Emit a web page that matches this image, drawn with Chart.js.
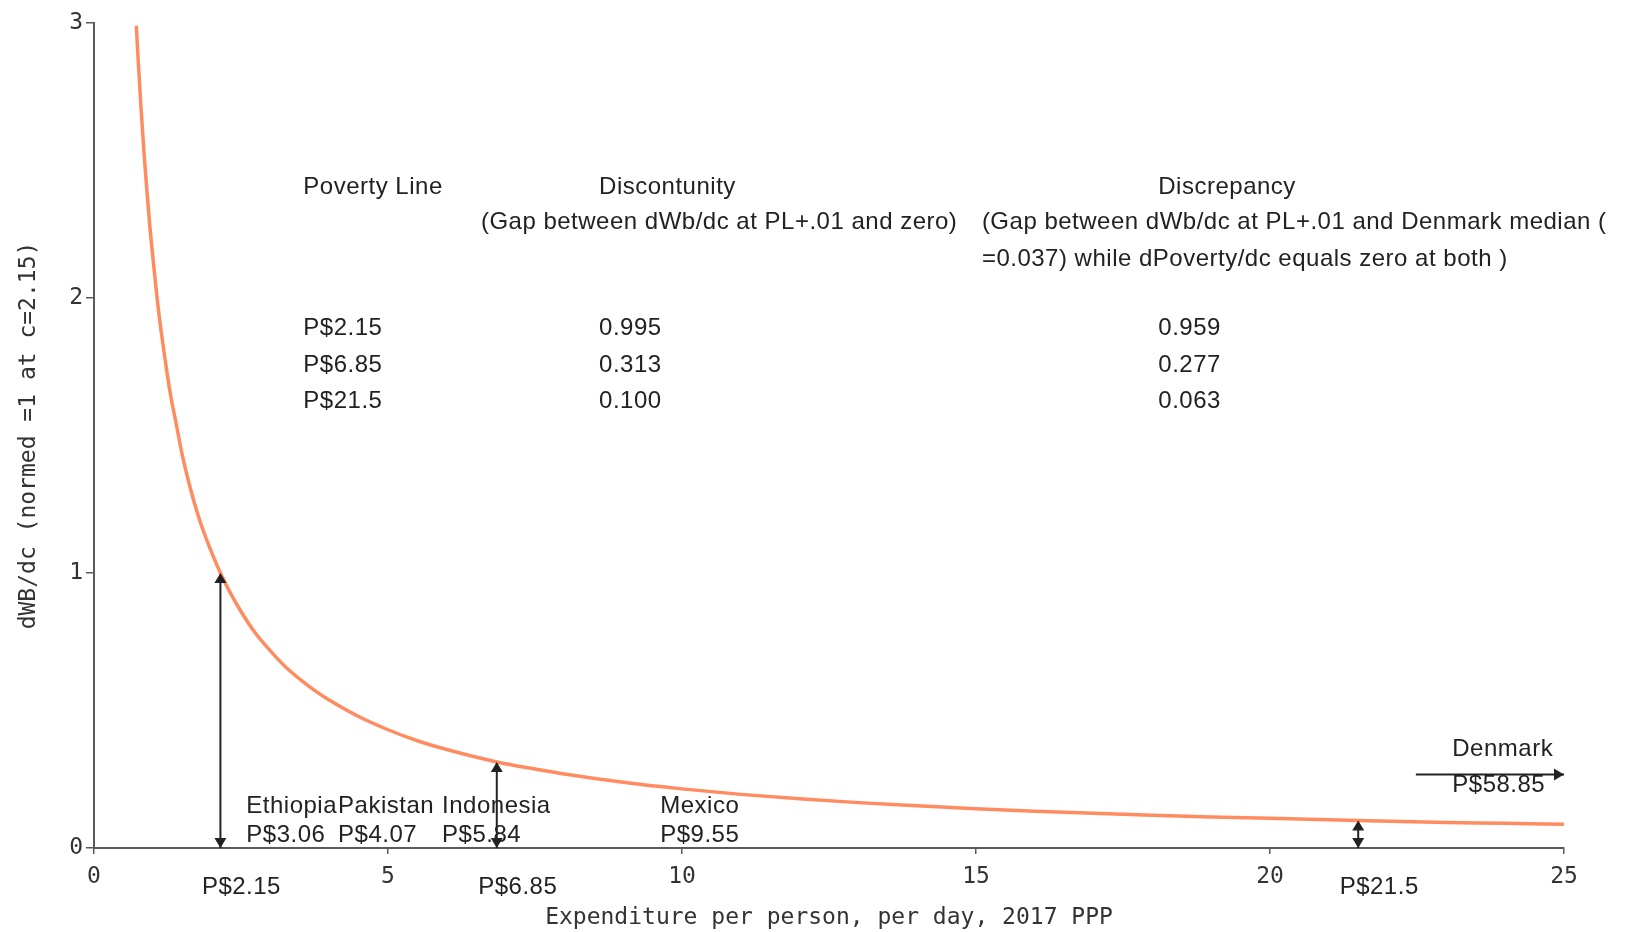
<!DOCTYPE html>
<html>
<head>
<meta charset="utf-8">
<title>dWB/dc by expenditure</title>
<script src="https://cdn.jsdelivr.net/npm/chart.js@4/dist/chart.umd.min.js"></script>
<style>
  html, body { margin: 0; padding: 0; background: #fff; }
  #wrap { width: 1630px; height: 932px; }
</style>
</head>
<body>
<div id="wrap"><canvas id="wbChart" width="1630" height="932"></canvas></div>
<script>
// === values ===
const expenditure = [0.72, 0.75, 0.8, 0.85, 0.9, 0.95, 1, 1.1, 1.2, 1.3, 1.4, 1.5, 1.6, 1.7, 1.8, 1.9, 2, 2.15, 2.3, 2.5, 2.75, 3, 3.25, 3.5, 3.75, 4, 4.5, 5, 5.5, 6, 6.85, 7.5, 8, 9, 10, 11, 12, 13, 14, 15, 16, 17, 18, 19, 20, 21.5, 23, 24, 25];
const dwbdc = [2.99, 2.87, 2.69, 2.53, 2.39, 2.26, 2.15, 1.95, 1.79, 1.65, 1.54, 1.43, 1.34, 1.26, 1.19, 1.13, 1.075, 1.0, 0.935, 0.86, 0.78, 0.717, 0.66, 0.614, 0.573, 0.538, 0.478, 0.43, 0.39, 0.358, 0.313, 0.287, 0.269, 0.239, 0.215, 0.195, 0.179, 0.165, 0.154, 0.143, 0.134, 0.126, 0.119, 0.113, 0.108, 0.100, 0.093, 0.090, 0.086];

const povertyLines = [2.15, 6.85, 21.5];
const povertyLabels = ['P$2.15', 'P$6.85', 'P$21.5'];
const discontinuity = ['0.995', '0.313', '0.100'];
const discrepancy = ['0.959', '0.277', '0.063'];
const arrowTops = [1.0, 0.313, 0.1];

const countries = ['Ethiopia', 'Pakistan', 'Indonesia', 'Mexico'];
const countryMedians = ['P$3.06', 'P$4.07', 'P$5.84', 'P$9.55'];
const denmarkMedian = 'P$58.85';
const denmarkArrow = [22.48, 25];
const denmarkArrowLevel = 0.267;

const xTitle = 'Expenditure per person, per day, 2017 PPP';
const yTitle = 'dWB/dc (normed =1 at c=2.15)';

// === where the text sits (data units) ===
const countryLabelX = [2.59, 4.15, 5.92, 9.63];
const countryRowY = [0.153, 0.047];
const denmarkLabel = { x: 23.1, y1: 0.358, y2: 0.229 };
const tableColX = [3.56, 8.59, 18.1];
const tableNoteX = [6.58, 15.1];
const tableHeadY = 2.404;
const tableNoteY = [2.275, 2.142];
const tableRowY = [1.889, 1.756, 1.625];

const monoFont = 'DejaVu Sans Mono';
const textFont = '24px "Liberation Sans", Arial, sans-serif';
const ink = '#222';
const axisGray = '#5a5a5a';

// === datasets ===
const datasets = [{
  label: 'dWB/dc',
  data: expenditure.map((x, i) => ({ x: x, y: dwbdc[i] })),
  showLine: true,
  borderColor: '#ff8c60',
  borderWidth: 3.5,
  pointRadius: 0,
  cubicInterpolationMode: 'monotone'
}];

povertyLines.forEach((pl, i) => {
  datasets.push({
    label: povertyLabels[i],
    data: [{ x: pl, y: 0 }, { x: pl, y: arrowTops[i] }],
    showLine: true,
    borderColor: ink,
    borderWidth: 2,
    pointRadius: 0,
    arrow: 'both'
  });
});

datasets.push({
  label: 'Denmark',
  data: [{ x: denmarkArrow[0], y: denmarkArrowLevel }, { x: denmarkArrow[1], y: denmarkArrowLevel }],
  showLine: true,
  borderColor: ink,
  borderWidth: 2,
  pointRadius: 0,
  arrow: 'end'
});

// === arrow heads at the ends of the arrow datasets ===
function head(c, from, to, size) {
  const ang = Math.atan2(to.y - from.y, to.x - from.x);
  c.save();
  c.translate(to.x, to.y);
  c.rotate(ang);
  c.beginPath();
  c.moveTo(0, 0);
  c.lineTo(-size * 1.25, -size * 0.75);
  c.lineTo(-size * 1.25, size * 0.75);
  c.closePath();
  c.fill();
  c.restore();
}

const arrowHeads = {
  id: 'arrowHeads',
  afterDatasetsDraw(chart) {
    const c = chart.ctx;
    c.fillStyle = ink;
    chart.data.datasets.forEach((ds, i) => {
      if (!ds.arrow) return;
      const pts = chart.getDatasetMeta(i).data;
      const a = pts[0], b = pts[pts.length - 1];
      head(c, a, b, 8);
      if (ds.arrow === 'both') head(c, b, a, 8);
    });
  }
};

// === all the text annotations ===
const annotations = {
  id: 'annotations',
  afterDraw(chart) {
    const c = chart.ctx;
    const xs = chart.scales.x, ys = chart.scales.y;
    const px = v => xs.getPixelForValue(v);
    const py = v => ys.getPixelForValue(v);

    c.save();
    c.font = textFont;
    c.fillStyle = ink;
    c.textBaseline = 'middle';
    if ('letterSpacing' in c) c.letterSpacing = '0.5px';

    // table
    c.textAlign = 'left';
    c.fillText('Poverty Line', px(tableColX[0]), py(tableHeadY));
    c.fillText('Discontunity', px(tableColX[1]), py(tableHeadY));
    c.fillText('Discrepancy', px(tableColX[2]), py(tableHeadY));
    c.fillText('(Gap between dWb/dc at PL+.01 and zero)', px(tableNoteX[0]), py(tableNoteY[0]));
    c.fillText('(Gap between dWb/dc at PL+.01 and Denmark median (', px(tableNoteX[1]), py(tableNoteY[0]));
    c.fillText('=0.037) while dPoverty/dc equals zero at both )', px(tableNoteX[1]), py(tableNoteY[1]));
    povertyLabels.forEach((lab, i) => {
      c.fillText(lab, px(tableColX[0]), py(tableRowY[i]));
      c.fillText(discontinuity[i], px(tableColX[1]), py(tableRowY[i]));
      c.fillText(discrepancy[i], px(tableColX[2]), py(tableRowY[i]));
    });

    // countries
    countries.forEach((name, i) => {
      c.fillText(name, px(countryLabelX[i]), py(countryRowY[0]));
      c.fillText(countryMedians[i], px(countryLabelX[i]), py(countryRowY[1]));
    });
    c.fillText('Denmark', px(denmarkLabel.x), py(denmarkLabel.y1));
    c.fillText(denmarkMedian, px(denmarkLabel.x), py(denmarkLabel.y2));

    // poverty lines under the axis
    c.textAlign = 'center';
    povertyLines.forEach((pl, i) => {
      c.fillText(povertyLabels[i], px(pl) + 21, ys.bottom + 39);
    });
    c.restore();
  }
};

document.addEventListener('DOMContentLoaded', function () {
  const ctx = document.getElementById('wbChart');
  new Chart(ctx, {
    type: 'scatter',
    data: { datasets: datasets },
    options: {
      responsive: false,
      animation: false,
      layout: { padding: { top: 23, right: 66, left: 0, bottom: 0 } },
      plugins: {
        legend: { display: false },
        tooltip: { enabled: false }
      },
      scales: {
        x: {
          type: 'linear',
          min: 0,
          max: 25,
          afterFit(s) { s.height = 84; },
          ticks: {
            stepSize: 5,
            maxRotation: 0,
            padding: 9,
            color: '#333',
            font: { family: monoFont, size: 23 }
          },
          grid: { drawOnChartArea: false, drawTicks: true, tickLength: 6, color: axisGray, lineWidth: 1.5 },
          border: { color: axisGray, width: 2 },
          title: {
            display: true,
            text: xTitle,
            color: '#333',
            font: { family: monoFont, size: 23 },
            padding: { top: 0, bottom: 0 }
          }
        },
        y: {
          type: 'linear',
          min: 0,
          max: 3,
          afterFit(s) { s.width = 94; },
          ticks: {
            stepSize: 1,
            padding: 3,
            color: '#333',
            font: { family: monoFont, size: 23 }
          },
          grid: { drawOnChartArea: false, drawTicks: true, tickLength: 8, color: axisGray, lineWidth: 1.5 },
          border: { color: axisGray, width: 2 },
          title: {
            display: true,
            text: yTitle,
            color: '#333',
            font: { family: monoFont, size: 23 },
            padding: { top: 15, bottom: 0 }
          }
        }
      }
    },
    plugins: [arrowHeads, annotations]
  });
});
</script>
</body>
</html>
